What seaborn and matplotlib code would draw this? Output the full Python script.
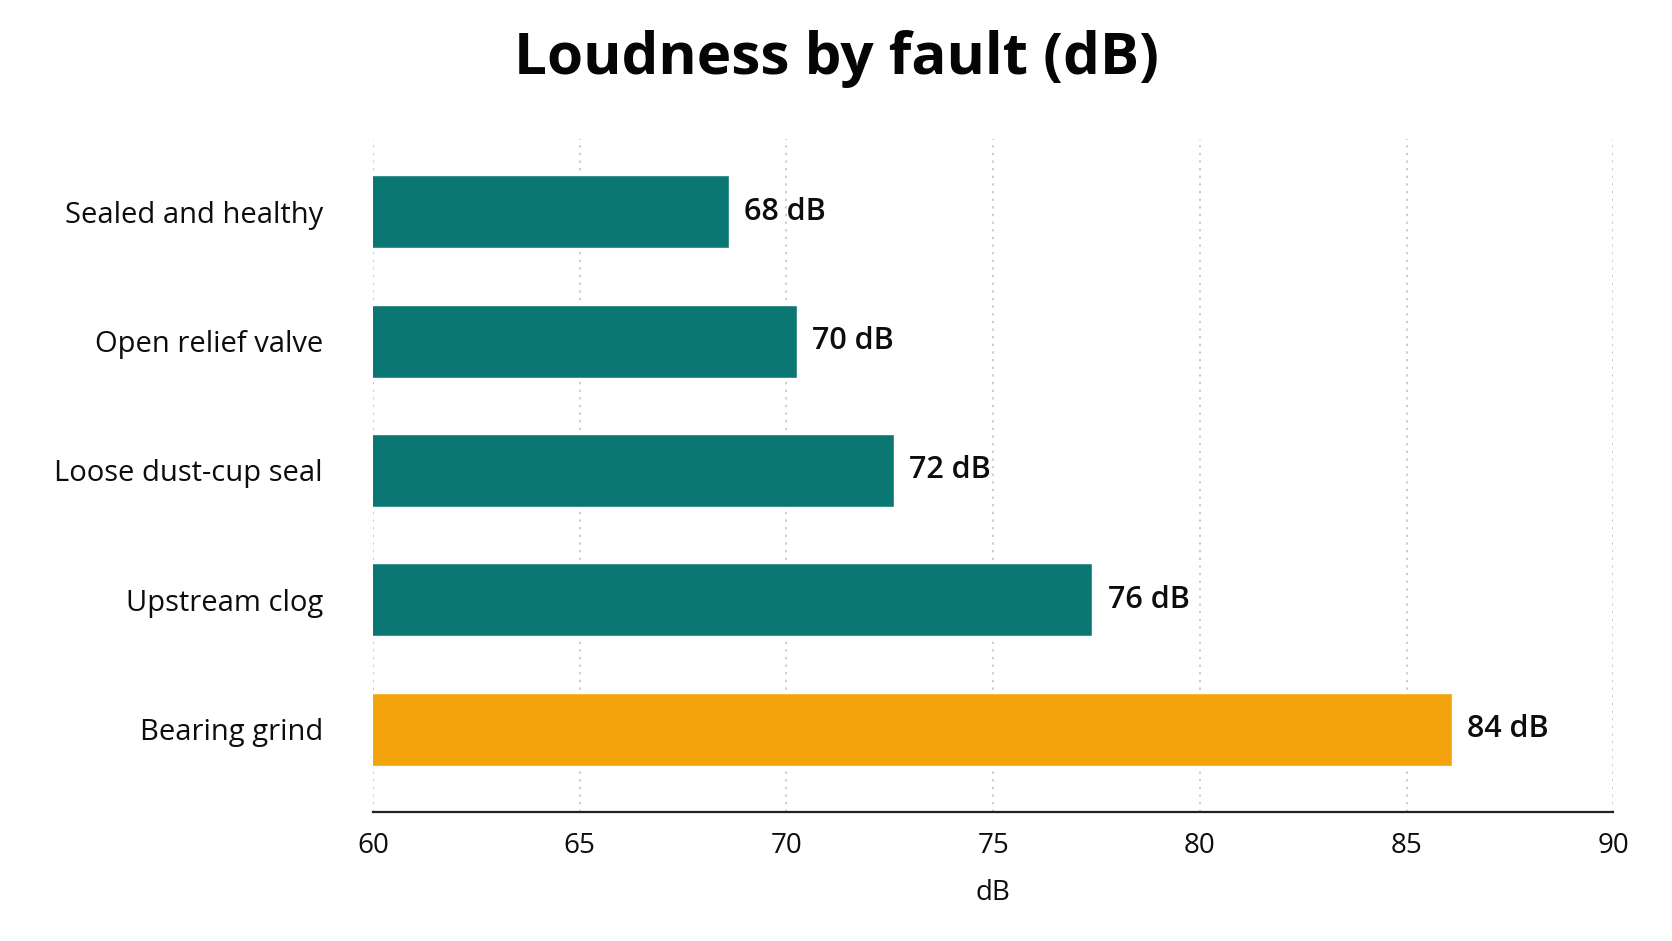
import matplotlib
matplotlib.use("Agg")
import matplotlib.pyplot as plt
import seaborn as sns
import pandas as pd

# ---- data ----
categories = ["Sealed and healthy", "Open relief valve", "Loose dust-cup seal",
              "Upstream clog", "Bearing grind"]
bar_lengths = [68.6, 70.25, 72.6, 77.4, 86.1]
value_labels = ["68 dB", "70 dB", "72 dB", "76 dB", "84 dB"]
bar_colors = ["#0B7773", "#0B7773", "#0B7773", "#0B7773", "#F3A30B"]
x_ticks = [60, 65, 70, 75, 80, 85, 90]
title = "Loudness by fault (dB)"
x_label = "dB"

df = pd.DataFrame({"fault": categories, "db": bar_lengths})

sns.set_theme(style="white")
plt.rcParams["font.family"] = ["Open Sans", "DejaVu Sans"]
plt.rcParams["text.color"] = "#0d0d0d"
plt.rcParams["axes.labelcolor"] = "#0d0d0d"
plt.rcParams["xtick.color"] = "#0d0d0d"
plt.rcParams["ytick.color"] = "#0d0d0d"

fig = plt.figure(figsize=(16.72, 9.41), dpi=100)
ax = fig.add_axes([0.223, 0.137, 0.742, 0.715])

sns.barplot(data=df, x="db", y="fault", hue="fault", palette=bar_colors,
            legend=False, width=0.565, orient="h", ax=ax, saturation=1)

ax.set_xlim(60, 90)
ax.set_ylim(4.64, -0.56)
ax.set_xticks(x_ticks)
ax.set_xticklabels([str(t) for t in x_ticks], fontsize=20)
ax.tick_params(axis="x", length=0, pad=14, colors="#0d0d0d")
ax.tick_params(axis="y", length=0, pad=36, labelsize=21, colors="#0d0d0d")
ax.set_ylabel("")
ax.set_xlabel(x_label, fontsize=20, labelpad=14, color="#0d0d0d")

ax.grid(axis="x", linestyle=(0, (1.5, 3.5)), color="#bdbdbd", linewidth=1.1)
ax.grid(axis="y", visible=False)
ax.set_axisbelow(True)

for s in ["top", "right", "left"]:
    ax.spines[s].set_visible(False)
ax.spines["bottom"].set_color("#222222")
ax.spines["bottom"].set_linewidth(1.6)

for container in ax.containers:
    for bar in container:
        idx = int(round(bar.get_y() + bar.get_height() / 2))
        ax.annotate(value_labels[idx], xy=(bar.get_width(), idx),
                    xytext=(11, 0), textcoords="offset points",
                    va="center", ha="left", fontsize=22, fontweight="semibold",
                    color="#0d0d0d")

fig.text(0.5, 0.937, title, ha="center", va="center", fontsize=42,
         fontweight="bold", color="#050505")

fig.savefig("out.png", dpi=100, facecolor="white")
